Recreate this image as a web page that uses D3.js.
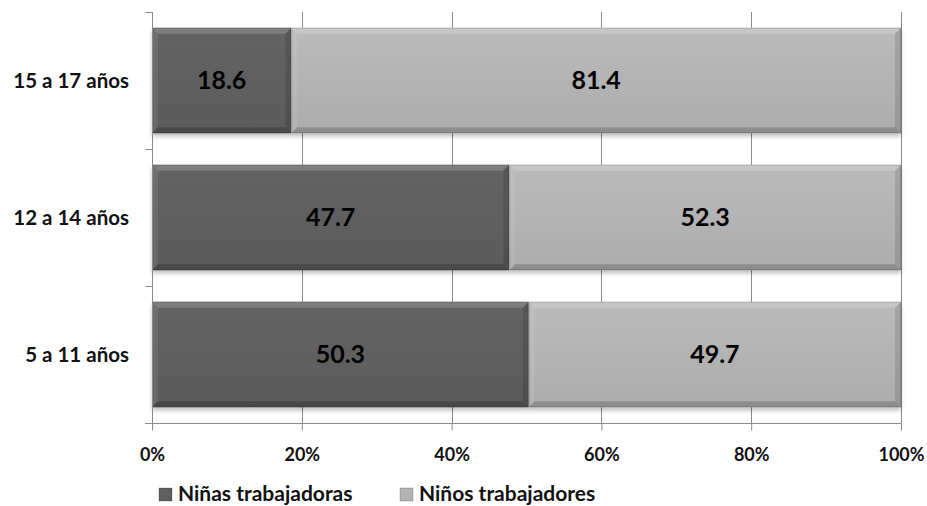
<!DOCTYPE html>
<html>
<head>
<meta charset="utf-8">
<script src="https://cdn.jsdelivr.net/npm/d3@7"></script>
<style>
  html, body { margin: 0; padding: 0; background: #fff; }
  svg { display: block; font-family: Lato, "Open Sans", sans-serif; font-weight: bold; }
</style>
</head>
<body>
<svg id="chart" width="927" height="506"></svg>
<script>
// Age groups, top to bottom
const categories = ["15 a 17 años", "12 a 14 años", "5 a 11 años"];
// Share of working children by sex (%)
const ninas = [18.6, 47.7, 50.3];
const ninos = [81.4, 52.3, 49.7];
const seriesNames = ["Niñas trabajadoras", "Niños trabajadores"];
const tickValues = [0, 0.2, 0.4, 0.6, 0.8, 1.0];

const colors = ["#5f5f5f", "#b3b3b3"];
const textColor = "#111";

const svg = d3.select("#chart");
const plotL = 152, plotR = 901, plotT = 12, plotB = 423;

const x = d3.scaleLinear().domain([0, 1]).range([plotL, plotR]);
const y = d3.scaleBand().domain(categories).range([plotT, plotB])
  .paddingInner(0.23).paddingOuter(0.115);

const defs = svg.append("defs");
colors.forEach((c, i) => {
  const g = defs.append("linearGradient").attr("id", "face" + i)
    .attr("x1", 0).attr("y1", 0).attr("x2", 0).attr("y2", 1);
  g.append("stop").attr("offset", "0%").attr("stop-color", d3.color(c).brighter(0.12));
  g.append("stop").attr("offset", "100%").attr("stop-color", d3.color(c).darker(0.12));
});
const sh = defs.append("filter").attr("id", "shadow")
  .attr("x", "-5%").attr("y", "-10%").attr("width", "110%").attr("height", "130%");
sh.append("feDropShadow").attr("dx", 0).attr("dy", 3).attr("stdDeviation", 2)
  .attr("flood-color", "#000").attr("flood-opacity", 0.25);

// Gridlines
svg.append("g").selectAll("line").data(tickValues.slice(1)).join("line")
  .attr("x1", d => Math.round(x(d)) + 0.5).attr("x2", d => Math.round(x(d)) + 0.5)
  .attr("y1", plotT).attr("y2", plotB)
  .attr("stroke", "#8a8a8a").attr("stroke-width", 1);

// Stacked data
const rows = categories.map((c, i) => ({ cat: c, vals: [ninas[i], ninos[i]] }));
const segs = [];
rows.forEach(r => {
  let acc = 0;
  r.vals.forEach((v, k) => {
    segs.push({ cat: r.cat, k, v, x0: acc / 100, x1: (acc + v) / 100 });
    acc += v;
  });
});

// Bevelled bar segments
const bars = svg.append("g").attr("filter", "url(#shadow)");
const bw = 6;
const segG = bars.selectAll("g").data(segs).join("g");
segG.each(function(d) {
  const g = d3.select(this);
  const x0 = x(d.x0), x1 = x(d.x1), y0 = y(d.cat), y1 = y(d.cat) + y.bandwidth();
  g.append("rect").attr("x", x0).attr("y", y0).attr("width", x1 - x0).attr("height", y1 - y0)
    .attr("fill", `url(#face${d.k})`);
  const poly = (pts, fill) => g.append("polygon")
    .attr("points", pts.map(p => p.join(",")).join(" ")).attr("fill", fill);
  poly([[x0, y0], [x1, y0], [x1 - bw, y0 + bw], [x0 + bw, y0 + bw]], "rgba(255,255,255,0.18)");
  poly([[x0, y0], [x0 + bw, y0 + bw], [x0 + bw, y1 - bw], [x0, y1]], "rgba(255,255,255,0.08)");
  poly([[x1, y0], [x1, y1], [x1 - bw, y1 - bw], [x1 - bw, y0 + bw]], "rgba(0,0,0,0.12)");
  poly([[x0, y1], [x0 + bw, y1 - bw], [x1 - bw, y1 - bw], [x1, y1]], "rgba(0,0,0,0.18)");
  g.append("rect").attr("x", x0 + 0.5).attr("y", y0 + 0.5).attr("width", x1 - x0 - 1).attr("height", y1 - y0 - 1)
    .attr("fill", "none").attr("stroke", "rgba(0,0,0,0.15)");
});

// Value labels
svg.append("g").selectAll("text").data(segs).join("text")
  .attr("x", d => (x(d.x0) + x(d.x1)) / 2)
  .attr("y", d => y(d.cat) + y.bandwidth() / 2)
  .attr("dy", "0.35em").attr("text-anchor", "middle")
  .attr("font-size", 25).attr("fill", "#000")
  .text(d => d.v.toFixed(1));

// Axes
const xAxis = d3.axisBottom(x).tickValues(tickValues).tickFormat(d3.format(".0%"))
  .tickSize(7).tickPadding(18);
const gx = svg.append("g").attr("transform", `translate(0,${plotB + 0.5})`).call(xAxis);
gx.select(".domain").remove();
gx.append("line").attr("x1", plotL - 7).attr("x2", plotR).attr("stroke", "#8a8a8a");
gx.selectAll(".tick line").attr("stroke", "#8a8a8a");
gx.selectAll(".tick text").attr("font-size", 18).attr("font-family", "Lato")
  .attr("font-weight", "bold").attr("fill", textColor);

const gy = svg.append("g").attr("transform", `translate(${plotL + 0.5},0)`);
gy.append("line").attr("y1", plotT).attr("y2", plotB).attr("stroke", "#8a8a8a");
const bounds = [plotT, ...categories.map(c => y(c) + y.bandwidth() + y.step() * y.paddingInner() / 2)];
bounds[bounds.length - 1] = plotB;
gy.selectAll("line.t").data(bounds).join("line").attr("class", "t")
  .attr("x1", -7).attr("x2", 0).attr("y1", d => Math.round(d) + 0.5).attr("y2", d => Math.round(d) + 0.5)
  .attr("stroke", "#8a8a8a");
svg.append("g").selectAll("text").data(categories).join("text")
  .attr("x", 129).attr("y", d => y(d) + y.bandwidth() / 2)
  .attr("dy", "0.35em").attr("text-anchor", "end")
  .attr("font-size", 20.5).attr("fill", textColor)
  .text(d => d);

// Legend
const legX = [159, 400];
const leg = svg.append("g").selectAll("g").data(seriesNames).join("g")
  .attr("transform", (d, i) => `translate(${legX[i]},494)`);
leg.append("rect").attr("x", 0).attr("y", -6).attr("width", 13).attr("height", 13)
  .attr("fill", (d, i) => colors[i]).attr("stroke", "rgba(0,0,0,0.2)");
leg.append("text").attr("x", 19).attr("dy", "0.35em").attr("font-size", 21)
  .attr("fill", textColor).text(d => d);
</script>
</body>
</html>
